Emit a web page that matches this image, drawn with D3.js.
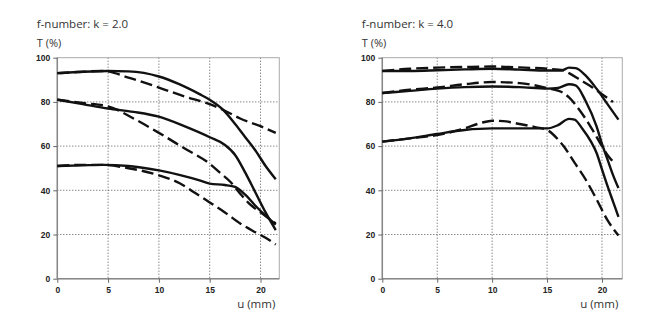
<!DOCTYPE html>
<html><head><meta charset="utf-8">
<script src="https://cdn.jsdelivr.net/npm/d3@7"></script>
<style>body{margin:0;background:#fff}svg{display:block}</style>
</head><body>
<svg id="c" width="650" height="336"></svg>
<script>
// ---- data ----
const panelTitles = ["f-number: k = 2.0", "f-number: k = 4.0"];
const yLabel = "T (%)";
const xLabel = "u (mm)";
const xTicks = [0, 5, 10, 15, 20];
const yTicks = [0, 20, 40, 60, 80, 100];

// k = 2.0 panel
const k2SolidA = [[0,93],[2,93.5],[5,94],[7,93.8],[10,91.5],[12,88],[14,83.5],[15,81],[16.3,76.5],[17.5,70],[18.5,64],[19.5,58],[20.5,51],[21.5,45]];
const k2DashA  = [[0,93],[2,93.5],[4.5,94],[7,91],[10,86.5],[12.5,82.5],[15,79],[16.5,76],[18,72.5],[20,69],[21.5,66]];
const k2SolidB = [[0,81],[2.5,79],[5,77],[7.5,75.5],[10,73.3],[12.5,69],[15,64],[16.5,60.5],[17.5,56],[18.5,48],[19.5,39],[20.5,30],[21.5,22]];
const k2DashB  = [[0,81],[2.5,79.5],[5,78],[7.5,72.5],[10,66],[12.5,59],[15,52],[16,48],[17,44],[18,38.5],[19,33.5],[20,30],[21.5,25]];
const k2SolidC = [[0,51],[2.5,51.3],[4.5,51.5],[7,51],[10,49],[12,47],[14,44.5],[15,43],[16.5,42.4],[17.5,41.5],[18.5,38],[19.5,33],[20.5,28.5],[21.5,24.5]];
const k2DashC  = [[0,51],[2.5,51.5],[4.5,51.5],[7,50],[10,46.8],[12,43.3],[13.5,39],[15,34.5],[16.5,30],[18,25],[19.5,21],[20.5,18.5],[21.5,15.5]];

// k = 4.0 panel
const k4SolidA = [[0,94],[2.5,94],[5,94.3],[7.5,94.7],[10,95],[12.5,94.6],[15,94.2],[16.3,94.2],[17,95.5],[17.6,95.3],[18.5,92],[19.5,86],[20.5,79],[21.5,72]];
const k4DashA  = [[0,94],[2.5,95],[5,95.5],[7.5,95.8],[10,96],[12.5,95.6],[15,95],[16.5,94.3],[17,93],[18,90],[19,87],[20,83.5],[21,80]];
const k4SolidB = [[0,84],[2.5,85],[5,86],[7.5,86.7],[10,87],[12.5,86.7],[15,86],[16,86.3],[17,88],[17.6,87.5],[18.5,80.5],[19.5,69],[20,61],[20.5,54],[21,47],[21.5,41]];
const k4DashB  = [[0,84],[2.5,85.5],[5,86.5],[7.5,88],[10,89],[12.5,88.5],[15,86.2],[16.5,84],[17,82],[18,76],[19,68.5],[20,60],[20.5,56],[21,53]];
const k4SolidC = [[0,62],[2.5,63.5],[5,65.5],[7.5,67.3],[10,68],[12.5,68],[15,68],[16,69.5],[17,72.3],[17.5,72],[18.2,68],[19,62],[19.5,57],[20,49.5],[20.5,42],[21,35],[21.5,28]];
const k4DashC  = [[0,62],[2.5,63.5],[5,65],[7.5,68],[9,70.5],[10,71.5],[11,71.3],[12.5,70],[14,68.5],[15,67.3],[16,63],[16.5,60],[17.5,52.5],[18.5,45],[19.5,36],[20.5,26.5],[21.5,19.5]];

const panels = [
  {title: panelTitles[0], x0: 57.3, x1: 279.3, solids: [k2SolidA, k2SolidB, k2SolidC], dashes: [k2DashA, k2DashB, k2DashC]},
  {title: panelTitles[1], x0: 382.3, x1: 622.3, solids: [k4SolidA, k4SolidB, k4SolidC], dashes: [k4DashA, k4DashB, k4DashC]}
];

const svg = d3.select("#c");
const yTop = 57.7, yBot = 278.7;
const font = "'Open Sans', 'Liberation Sans', Arial, sans-serif";
const tickFont = "'Liberation Sans', Arial, sans-serif";

panels.forEach(p => {
  const x = d3.scaleLinear().domain([0, 21.85]).range([p.x0, p.x1]);
  const y = d3.scaleLinear().domain([0, 100]).range([yBot, yTop]);
  const g = svg.append("g");

  // grid
  g.selectAll(".gx").data(xTicks.filter(d => d > 0)).join("line")
    .attr("x1", d => x(d)).attr("x2", d => x(d)).attr("y1", yTop).attr("y2", yBot)
    .attr("stroke", "#555").attr("stroke-width", 1).attr("stroke-dasharray", "1,2");
  g.selectAll(".gy").data(yTicks.filter(d => d > 0 && d < 100)).join("line")
    .attr("x1", p.x0).attr("x2", p.x1).attr("y1", d => y(d)).attr("y2", d => y(d))
    .attr("stroke", "#555").attr("stroke-width", 1).attr("stroke-dasharray", "1,2");

  // frame
  g.append("rect").attr("x", p.x0).attr("y", yTop).attr("width", p.x1 - p.x0).attr("height", yBot - yTop)
    .attr("fill", "none").attr("stroke", "#aaa").attr("stroke-width", 1);

  // axes
  const ax = g.append("g").attr("transform", `translate(0,${yBot})`)
    .call(d3.axisBottom(x).tickValues(xTicks).tickSize(4).tickPadding(4));
  const ay = g.append("g").attr("transform", `translate(${p.x0},0)`)
    .call(d3.axisLeft(y).tickValues(yTicks).tickSize(4).tickPadding(3));
  [ax, ay].forEach(a => {
    a.select(".domain").attr("stroke", "#888").attr("stroke-width", 1.5);
    a.selectAll(".tick line").attr("stroke", "#666");
    a.selectAll("text").attr("font-family", tickFont).attr("font-size", 8.5).attr("font-weight", "bold").attr("fill", "#222");
  });
  ax.select(".domain").attr("d", `M${p.x0},0H${p.x1}`);
  ay.select(".domain").attr("d", `M0,${yBot}V${yTop}`);

  // titles
  g.append("text").attr("x", p.x0 - 20.5).attr("y", 27.5).text(p.title)
    .attr("font-family", font).attr("font-size", 11.5).attr("fill", "#333");
  g.append("text").attr("x", p.x0 - 20.5).attr("y", 47).text(yLabel)
    .attr("font-family", font).attr("font-size", 11).attr("fill", "#333");
  g.append("text").attr("x", p.x1 - 4).attr("y", 308).attr("text-anchor", "end").text(xLabel)
    .attr("font-family", font).attr("font-size", 11.5).attr("fill", "#333");

  const line = d3.line().x(d => x(d[0])).y(d => y(d[1])).curve(d3.curveMonotoneX);
  g.selectAll(".s").data(p.solids).join("path").attr("d", line)
    .attr("fill", "none").attr("stroke", "#111").attr("stroke-width", 2.4);
  g.selectAll(".d").data(p.dashes).join("path").attr("d", line)
    .attr("fill", "none").attr("stroke", "#111").attr("stroke-width", 2.4).attr("stroke-dasharray", "12,5");
});
</script>
</body></html>
